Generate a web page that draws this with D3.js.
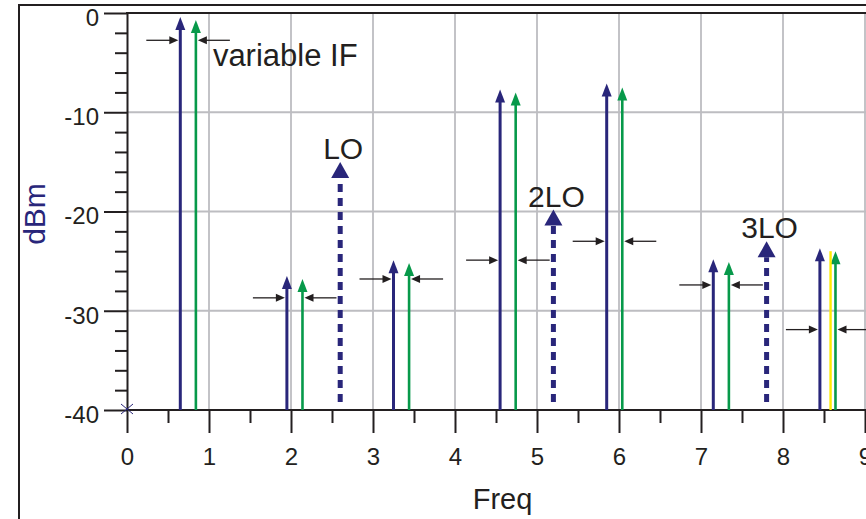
<!DOCTYPE html>
<html lang="en">
<head>
  <meta charset="UTF-8" />
  <title>Mixer spectrum</title>
  <script src="https://d3js.org/d3.v7.min.js"></script>
  <style>
    body { margin: 0; background: #fff; }
    svg { display: block; font-family: 'Liberation Sans', Arial, sans-serif; }
    .tick text { fill: #231f20; font-size: 24px; }
    .annot { fill: #231f20; font-size: 30px; }
  </style>
</head>
<body>
<svg width="866" height="519"></svg>
<script>
// tick values
const freqMajor = [0, 1, 2, 3, 4, 5, 6, 7, 8, 9];
const freqMinor = [0.5, 1.5, 2.5, 3.5, 4.5, 5.5, 6.5, 7.5, 8.5];
const dbmMajor = [0, -10, -20, -30, -40];
const dbmMinor = d3.range(-38, 0, 2).filter(v => v % 10 !== 0);

// signal pairs (navy = lower, green = upper)
const navyFreq  = [0.65, 1.95, 3.25, 4.55, 5.85, 7.15, 8.45];
const navyLevel = [-0.4, -26.5, -24.9, -7.7, -7.1, -24.8, -23.7];
const greenFreq  = [0.84, 2.14, 3.44, 4.74, 6.04, 7.34, 8.64];
const greenLevel = [-0.7, -26.8, -25.2, -8.0, -7.5, -25.1, -24.0];
// level of the small horizontal spacing arrows for each pair
const markerLevel = [-2.75, -28.7, -26.8, -24.9, -23.0, -27.4, -31.9];

// local oscillator harmonics
const loName  = ["LO", "2LO", "3LO"];
const loFreq  = [2.6, 5.2, 7.8];
const loLevel = [-15, -19.8, -23];

const yellowFreq = [8.58];
const yellowLevel = [-24.0];

const navy = "#29267a", green = "#07994a", ink = "#231f20", grid = "#bdbdc1";

const svg = d3.select("svg");
const x = d3.scaleLinear().domain([0, 9.5]).range([127, 127 + 9.5 * 82]);
const y = d3.scaleLinear().domain([-40, 0]).range([410, 13]);

// outer frame
svg.append("path").attr("d", "M19,519V5H866").attr("fill", "none")
  .attr("stroke", ink).attr("stroke-width", 2);

// grid
svg.append("g").selectAll("line").data(freqMajor.slice(1)).join("line")
  .attr("x1", d => x(d)).attr("x2", d => x(d))
  .attr("y1", y(0)).attr("y2", y(-40))
  .attr("stroke", grid).attr("stroke-width", 1.8);
svg.append("g").selectAll("line").data(dbmMajor.slice(1, -1)).join("line")
  .attr("x1", x(0)).attr("x2", 866)
  .attr("y1", d => y(d)).attr("y2", d => y(d))
  .attr("stroke", grid).attr("stroke-width", 1.8);

// top border of plot
svg.append("line").attr("x1", x(0) - 1).attr("x2", 866)
  .attr("y1", y(0)).attr("y2", y(0)).attr("stroke", ink).attr("stroke-width", 2);

// axes (plain hyphen for negatives, like the original)
const fmt = d => String(d);
const yMinor = svg.append("g").attr("transform", `translate(${x(0)},0)`)
  .call(d3.axisLeft(y).tickValues(dbmMinor).tickSize(12).tickFormat(""));
const yAxis = svg.append("g").attr("transform", `translate(${x(0)},0)`)
  .call(d3.axisLeft(y).tickValues(dbmMajor).tickSize(23).tickSizeOuter(0).tickPadding(5).tickFormat(fmt));
yAxis.selectAll("text").attr("dy", "0.52em");

const xMinor = svg.append("g").attr("transform", `translate(0,${y(-40)})`)
  .call(d3.axisBottom(x).tickValues(freqMinor).tickSize(13).tickFormat(""));
const xAxis = svg.append("g").attr("transform", `translate(0,${y(-40)})`)
  .call(d3.axisBottom(x).tickValues(freqMajor).tickSize(23).tickSizeOuter(0).tickPadding(15).tickFormat(fmt));

[yMinor, yAxis, xMinor, xAxis].forEach(g => {
  g.select(".domain").attr("stroke", ink).attr("stroke-width", 2);
  g.selectAll(".tick line").attr("stroke", ink).attr("stroke-width", 2);
});
yMinor.select(".domain").remove();
xMinor.select(".domain").remove();
xAxis.select(".domain").attr("d", `M${x(0)},0H866`);

// origin marker
svg.append("path")
  .attr("d", `M${x(0) - 6},${y(-40) - 6}L${x(0) + 6},${y(-40) + 4}M${x(0) + 6},${y(-40) - 6}L${x(0) - 6},${y(-40) + 4}`)
  .attr("stroke", navy).attr("stroke-width", 1);

// axis titles
svg.append("text").attr("x", x(4.58)).attr("y", 509).attr("text-anchor", "middle")
  .attr("fill", ink).style("font-size", "29px").text("Freq");
svg.append("text").attr("transform", "translate(45,214) rotate(-90)")
  .attr("text-anchor", "middle").attr("fill", navy).style("font-size", "30px").text("dBm");

// vertical signal arrows
function spike(fx, lv, color, w) {
  const g = svg.append("g");
  const cx = x(fx), ty = y(lv);
  g.append("line").attr("x1", cx).attr("x2", cx).attr("y1", ty + 10).attr("y2", y(-40))
    .attr("stroke", color).attr("stroke-width", w);
  g.append("path").attr("d", `M${cx},${ty}L${cx + 5},${ty + 13}L${cx - 5},${ty + 13}Z`)
    .attr("fill", color);
}
navyFreq.forEach((f, i) => spike(f, navyLevel[i], navy, 3));
greenFreq.forEach((f, i) => spike(f, greenLevel[i], green, 2.6));

// yellow line
svg.selectAll("line.yellow").data(yellowFreq).join("line").attr("class", "yellow")
  .attr("x1", d => x(d)).attr("x2", d => x(d))
  .attr("y1", (d, i) => y(yellowLevel[i])).attr("y2", y(-40))
  .attr("stroke", "#ffec00").attr("stroke-width", 2.4);

// horizontal spacing arrows
function hArrow(tipX, yy, dir) {
  const g = svg.append("g");
  g.append("line").attr("x1", tipX - dir * 32).attr("x2", tipX - dir * 6)
    .attr("y1", yy).attr("y2", yy).attr("stroke", ink).attr("stroke-width", 1.3);
  g.append("path").attr("d", `M${tipX},${yy}L${tipX - dir * 9},${yy - 4}L${tipX - dir * 9},${yy + 4}Z`)
    .attr("fill", ink);
}
markerLevel.forEach((lv, i) => {
  hArrow(x(navyFreq[i]) - 2, y(lv), 1);
  hArrow(x(greenFreq[i]) + 2, y(lv), -1);
});

// LO harmonics: dashed lines with big heads
loFreq.forEach((f, i) => {
  const cx = x(f), ty = y(loLevel[i]);
  svg.append("line").attr("x1", cx).attr("x2", cx)
    .attr("y1", y(-39.2)).attr("y2", ty + 16)
    .attr("stroke", navy).attr("stroke-width", 5).attr("stroke-dasharray", "8,6");
  svg.append("path").attr("d", `M${cx},${ty}L${cx + 9},${ty + 16}L${cx - 9},${ty + 16}Z`)
    .attr("fill", navy);
  svg.append("text").attr("class", "annot").attr("x", cx + 3).attr("y", ty - 3)
    .attr("text-anchor", "middle").text(loName[i]);
});

svg.append("text").attr("class", "annot").style("font-size", "31px")
  .attr("x", x(greenFreq[0]) + 17).attr("y", y(markerLevel[0]) + 26)
  .text("variable IF");
</script>
</body>
</html>
